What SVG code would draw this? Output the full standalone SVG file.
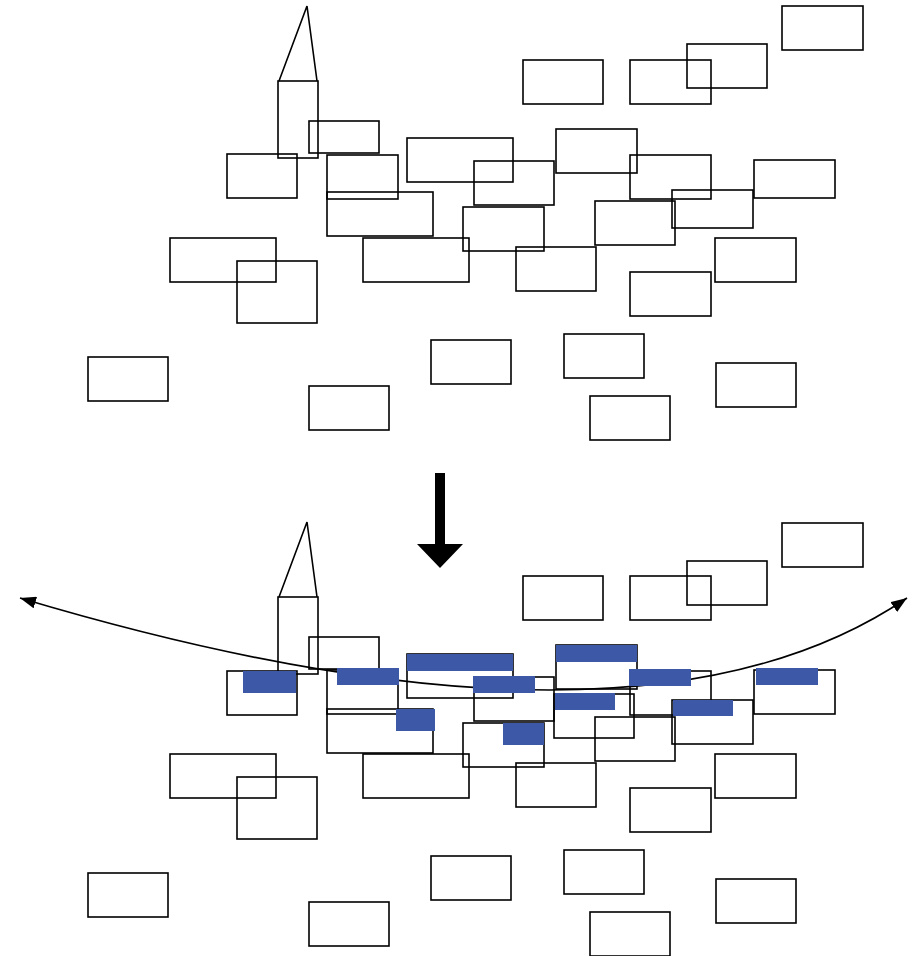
<svg xmlns="http://www.w3.org/2000/svg" width="919" height="956" viewBox="0 0 919 956">
<defs>
<style>
.b{fill:none;stroke:#000;stroke-width:1.6}
.h{fill:#3D58A6;stroke:none}
.c{fill:none;stroke:#000;stroke-width:1.6}
.big{fill:#000;stroke:none}
</style>
<marker id="ah" markerUnits="userSpaceOnUse" markerWidth="16" markerHeight="12" refX="16" refY="6" orient="auto-start-reverse" viewBox="0 0 16 12">
<path d="M0,0 L16,6 L0,12 z" fill="#000"/>
</marker>
</defs>
<rect x="0" y="0" width="919" height="956" fill="#fff"/>

<g id="connectors">
<path class="c" d="M20,598 Q636,782 907,598" marker-start="url(#ah)" marker-end="url(#ah)"/>
<polygon id="down-arrow" class="big" points="435,473 445,473 445,544 463,544 440,568 417,544 435,544"/>
</g>

<g id="top-scene">
<g id="t-tower"><polyline class="b" points="279,81 307,6 317,81"/><rect class="b" x="278" y="81" width="40" height="77"/></g>
<g id="t1"><rect class="b" x="782" y="6" width="81" height="44"/></g>
<g id="t2"><rect class="b" x="687" y="44" width="80" height="44"/></g>
<g id="t3"><rect class="b" x="523" y="60" width="80" height="44"/></g>
<g id="t4"><rect class="b" x="630" y="60" width="81" height="44"/></g>
<g id="t5"><rect class="b" x="309" y="121" width="70" height="32"/></g>
<g id="t6"><rect class="b" x="227" y="154" width="70" height="44"/></g>
<g id="t7"><rect class="b" x="327" y="155" width="71" height="44"/></g>
<g id="t8"><rect class="b" x="407" y="138" width="106" height="44"/></g>
<g id="t9"><rect class="b" x="474" y="161" width="80" height="44"/></g>
<g id="t10"><rect class="b" x="556" y="129" width="81" height="44"/></g>
<g id="t11"><rect class="b" x="630" y="155" width="81" height="44"/></g>
<g id="t12"><rect class="b" x="754" y="160" width="81" height="38"/></g>
<g id="t13"><rect class="b" x="672" y="190" width="81" height="38"/></g>
<g id="t14"><rect class="b" x="327" y="192" width="106" height="44"/></g>
<g id="t15"><rect class="b" x="463" y="207" width="81" height="44"/></g>
<g id="t16"><rect class="b" x="595" y="201" width="80" height="44"/></g>
<g id="t17"><rect class="b" x="170" y="238" width="106" height="44"/></g>
<g id="t18"><rect class="b" x="237" y="261" width="80" height="62"/></g>
<g id="t19"><rect class="b" x="363" y="238" width="106" height="44"/></g>
<g id="t20"><rect class="b" x="516" y="247" width="80" height="44"/></g>
<g id="t21"><rect class="b" x="715" y="238" width="81" height="44"/></g>
<g id="t22"><rect class="b" x="630" y="272" width="81" height="44"/></g>
<g id="t23"><rect class="b" x="88" y="357" width="80" height="44"/></g>
<g id="t24"><rect class="b" x="309" y="386" width="80" height="44"/></g>
<g id="t25"><rect class="b" x="431" y="340" width="80" height="44"/></g>
<g id="t26"><rect class="b" x="564" y="334" width="80" height="44"/></g>
<g id="t27"><rect class="b" x="590" y="396" width="80" height="44"/></g>
<g id="t28"><rect class="b" x="716" y="363" width="80" height="44"/></g>
</g>

<g id="bottom-scene">
<g id="b-tower"><polyline class="b" points="279,597 307,522 317,597"/><rect class="b" x="278" y="597" width="40" height="77"/></g>
<g id="b1"><rect class="b" x="782" y="523" width="81" height="44"/></g>
<g id="b2"><rect class="b" x="687" y="561" width="80" height="44"/></g>
<g id="b3"><rect class="b" x="523" y="576" width="80" height="44"/></g>
<g id="b4"><rect class="b" x="630" y="576" width="81" height="44"/></g>
<g id="b5"><rect class="b" x="309" y="637" width="70" height="32"/></g>
<g id="b6"><rect class="b" x="227" y="671" width="70" height="44"/></g>
<g id="b7"><rect class="b" x="327" y="670" width="71" height="44"/></g>
<g id="b8"><rect class="b" x="407" y="654" width="106" height="44"/></g>
<g id="b9"><rect class="b" x="474" y="677" width="80" height="44"/></g>
<g id="b10"><rect class="b" x="556" y="645" width="81" height="44"/></g>
<g id="b11"><rect class="b" x="630" y="671" width="81" height="44"/></g>
<g id="b12"><rect class="b" x="754" y="670" width="81" height="44"/></g>
<g id="b13"><rect class="b" x="672" y="700" width="81" height="44"/></g>
<g id="b14"><rect class="b" x="327" y="709" width="106" height="44"/></g>
<g id="b15"><rect class="b" x="463" y="723" width="81" height="44"/></g>
<g id="b16"><rect class="b" x="554" y="694" width="80" height="44"/></g>
<g id="b17"><rect class="b" x="595" y="717" width="80" height="44"/></g>
<g id="b18"><rect class="b" x="170" y="754" width="106" height="44"/></g>
<g id="b19"><rect class="b" x="237" y="777" width="80" height="62"/></g>
<g id="b20"><rect class="b" x="363" y="754" width="106" height="44"/></g>
<g id="b21"><rect class="b" x="516" y="763" width="80" height="44"/></g>
<g id="b22"><rect class="b" x="715" y="754" width="81" height="44"/></g>
<g id="b23"><rect class="b" x="630" y="788" width="81" height="44"/></g>
<g id="b24"><rect class="b" x="88" y="873" width="80" height="44"/></g>
<g id="b25"><rect class="b" x="309" y="902" width="80" height="44"/></g>
<g id="b26"><rect class="b" x="431" y="856" width="80" height="44"/></g>
<g id="b27"><rect class="b" x="564" y="850" width="80" height="44"/></g>
<g id="b28"><rect class="b" x="590" y="912" width="80" height="44"/></g>
<g id="b29"><rect class="b" x="716" y="879" width="80" height="44"/></g>
</g>

<g id="highlights">
<rect class="h" x="243" y="671" width="53" height="22"/>
<rect class="h" x="337" y="668" width="62" height="17"/>
<rect class="h" x="407" y="654" width="106" height="17"/>
<rect class="h" x="473" y="676" width="62" height="17"/>
<rect class="h" x="396" y="709" width="39" height="22"/>
<rect class="h" x="503" y="723" width="41" height="22"/>
<rect class="h" x="556" y="645" width="81" height="17"/>
<rect class="h" x="629" y="669" width="62" height="17"/>
<rect class="h" x="555" y="693" width="60" height="17"/>
<rect class="h" x="673" y="700" width="60" height="16"/>
<rect class="h" x="756" y="668" width="62" height="17"/>
</g>
</svg>
